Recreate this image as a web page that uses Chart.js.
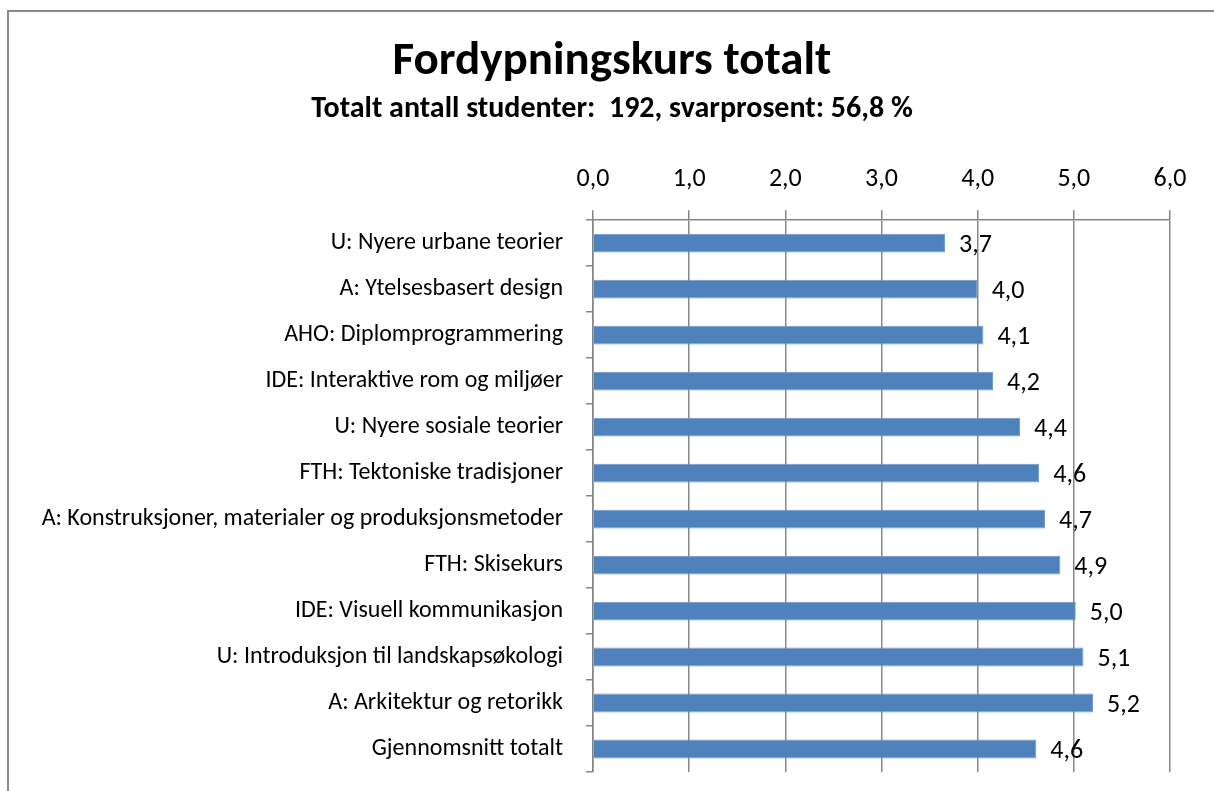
<!DOCTYPE html>
<html>
<head>
<meta charset="utf-8">
<script src="https://cdn.jsdelivr.net/npm/chart.js@4"></script>
<style>
  html, body { margin: 0; padding: 0; background: #fff; overflow: hidden; }
  #frame { position: absolute; left: 7px; top: 10px; width: 1300px; height: 900px; border: 2px solid #8a8a8a; pointer-events: none; }
  #wrap { position: absolute; left: 0; top: 0; width: 1214px; height: 791px; }
</style>
</head>
<body>
<div id="frame"></div>
<div id="wrap"><canvas id="kursChart" width="1214" height="791"></canvas></div>
<script>
const categories = [
  'U: Nyere urbane teorier',
  'A: Ytelsesbasert design',
  'AHO: Diplomprogrammering',
  'IDE: Interaktive rom og miljøer',
  'U: Nyere sosiale teorier',
  'FTH: Tektoniske tradisjoner',
  'A: Konstruksjoner, materialer og produksjonsmetoder',
  'FTH: Skisekurs',
  'IDE: Visuell kommunikasjon',
  'U: Introduksjon til landskapsøkologi',
  'A: Arkitektur og retorikk',
  'Gjennomsnitt totalt',
];
const scores = [3.66, 4.0, 4.06, 4.16, 4.44, 4.64, 4.7, 4.86, 5.02, 5.1, 5.2, 4.61];
const tickValues = [0, 1, 2, 3, 4, 5, 6];

const FONT = 'Carlito, Calibri, Lato, sans-serif';
const fmt = (v) => Number(v).toFixed(1).replace('.', ',');

// value labels to the right of each bar
const barLabels = {
  id: 'barLabels',
  afterDatasetsDraw(chart) {
    const c = chart.ctx;
    c.save();
    c.font = '26px ' + FONT;
    c.fillStyle = '#000';
    c.textBaseline = 'middle';
    c.textAlign = 'left';
    chart.getDatasetMeta(0).data.forEach((bar, i) => {
      c.fillText(fmt(scores[i]), bar.x + 14, bar.y + 2);
    });
    c.restore();
  },
};

const ctx = document.getElementById('kursChart').getContext('2d');

new Chart(ctx, {
  type: 'bar',
  data: {
    labels: categories,
    datasets: [
      {
        data: scores,
        backgroundColor: '#4F81BD',
        borderColor: '#6C98CF',
        borderWidth: 1,
        barPercentage: 0.41,
        categoryPercentage: 1,
      },
    ],
  },
  options: {
    indexAxis: 'y',
    responsive: false,
    animation: false,
    layout: {
      padding: { top: 39, left: 10, right: 0, bottom: 19 },
    },
    scales: {
      x: {
        position: 'top',
        min: 0,
        max: 6,
        afterBuildTicks: (scale) => {
          scale.ticks = tickValues.map((v) => ({ value: v }));
        },
        afterFit: (scale) => {
          scale.paddingRight = 44;
        },
        ticks: {
          color: '#000',
          padding: 15,
          font: { family: FONT, size: 26 },
          callback: (v) => fmt(v),
        },
        grid: {
          color: '#868686',
          lineWidth: 1.5,
          tickLength: 10,
        },
        border: { color: '#868686', width: 1.5 },
      },
      y: {
        afterFit: (scale) => {
          scale.width = 583;
          scale.paddingTop = 0;
          scale.paddingBottom = 0;
        },
        ticks: {
          color: '#000',
          padding: 23,
          font: { family: FONT, size: 24 },
        },
        grid: {
          drawOnChartArea: false,
          color: '#868686',
          lineWidth: 1.5,
          tickLength: 7,
        },
        border: { color: '#868686', width: 1.5 },
      },
    },
    plugins: {
      legend: { display: false },
      tooltip: { enabled: false },
      title: {
        display: true,
        text: 'Fordypningskurs totalt',
        color: '#000',
        font: { family: FONT, size: 47, weight: 'bold', lineHeight: 1 },
        padding: { top: 0, bottom: 8 },
      },
      subtitle: {
        display: true,
        text: 'Totalt antall studenter:  192, svarprosent: 56,8 %',
        color: '#000',
        font: { family: FONT, size: 30, weight: 'bold', lineHeight: 1 },
        padding: { top: 0, bottom: 25 },
      },
    },
  },
  plugins: [barLabels],
});
</script>
</body>
</html>
